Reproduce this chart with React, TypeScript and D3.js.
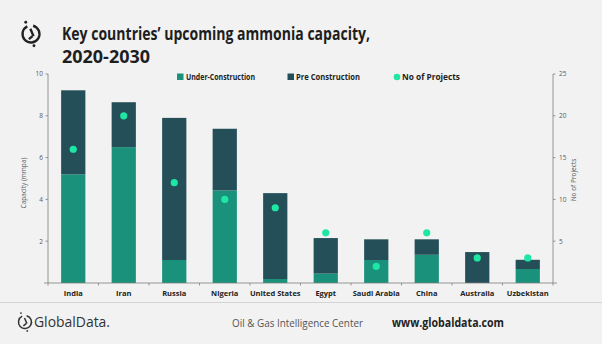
import React from "react";
import * as d3 from "d3";

const categories = ["India", "Iran", "Russia", "Nigeria", "United States", "Egypt", "Saudi Arabia", "China", "Australia", "Uzbekistan"];
const underConstruction = [5.2, 6.5, 1.1, 4.43, 0.19, 0.45, 1.1, 1.35, 0, 0.67];
const totalCapacity = [9.22, 8.65, 7.9, 7.38, 4.3, 2.15, 2.09, 2.09, 1.48, 1.11];
const noOfProjects = [16, 20, 12, 10, 9, 6, 2, 6, 3, 3];
const leftTicks = [2, 4, 6, 8, 10];
const rightTicks = [5, 10, 15, 20, 25];

const W = 602, H = 344;
const C_UNDER = "#1a917a";
const C_PRE = "#244f58";
const C_DOT = "#1ee6a4";
const FONT = "'Open Sans', 'Liberation Sans', sans-serif";

function Logo({ cx, cy, r, w, color }: { cx: number; cy: number; r: number; w: number; color: string }) {
  const ring = d3.arc()({ innerRadius: r - w / 2, outerRadius: r + w / 2, startAngle: 0.25, endAngle: 2 * Math.PI - 0.45 } as any) as string;
  return (
    <g transform={`translate(${cx},${cy})`}>
      <path d={ring} fill={color} />
      <line x1={-r * 0.08} y1={-r * 0.62} x2={r * 0.3} y2={r * 0.25} stroke={color} strokeWidth={w} />
      <line x1={r * 0.18} y1={r * 0.25} x2={-r * 0.25} y2={r * 0.6} stroke={color} strokeWidth={w} />
      <circle cx={-r * 0.62} cy={-r * 1.38} r={w * 0.6} fill={color} />
      <circle cx={r * 0.35} cy={r * 1.38} r={w * 0.6} fill={color} />
    </g>
  );
}

export default function App() {
  const x = d3.scaleBand<string>().domain(categories).range([48, 553]).paddingInner(0.52).paddingOuter(0.26);
  const yL = d3.scaleLinear().domain([0, 10]).range([283, 74]);
  const yR = d3.scaleLinear().domain([0, 25]).range([283, 74]);
  const step = x.step();
  const boundaries = d3.range(categories.length + 1).map((i) => 48 + i * step);

  return (
    <svg width={W} height={H} style={{ position: "absolute", left: 0, top: 0, background: "#f2f2f2" }} fontFamily={FONT}>
      <rect width={W} height={H} fill="#f2f2f2" />
      <Logo cx={31} cy={34} r={8.5} w={2.4} color="#222" />
      <text x={62} y={40} fontSize={17.5} fontWeight={700} fill="#1e1e1e" textLength={308} lengthAdjust="spacingAndGlyphs">Key countries’ upcoming ammonia capacity,</text>
      <text x={62} y={63} fontSize={17.5} fontWeight={700} fill="#1e1e1e" textLength={88} lengthAdjust="spacingAndGlyphs">2020-2030</text>

      {/* Legend */}
      <rect x={177} y={73.5} width={6.5} height={6.5} fill={C_UNDER} />
      <text x={186} y={79.8} fontSize={8} fontWeight={700} fill="#222" textLength={69} lengthAdjust="spacingAndGlyphs">Under-Construction</text>
      <rect x={287.5} y={73.5} width={6.5} height={6.5} fill={C_PRE} />
      <text x={296} y={79.8} fontSize={8} fontWeight={700} fill="#222" textLength={64} lengthAdjust="spacingAndGlyphs">Pre Construction</text>
      <circle cx={397} cy={77} r={3.3} fill={C_DOT} />
      <text x={402} y={79.8} fontSize={8} fontWeight={700} fill="#222" textLength={58} lengthAdjust="spacingAndGlyphs">No of Projects</text>

      {/* Bars */}
      {categories.map((c, i) => (
        <g key={c}>
          <rect x={x(c)} width={x.bandwidth()} y={yL(underConstruction[i])} height={yL(0) - yL(underConstruction[i])} fill={C_UNDER} />
          <rect x={x(c)} width={x.bandwidth()} y={yL(totalCapacity[i])} height={yL(underConstruction[i]) - yL(totalCapacity[i])} fill={C_PRE} />
          <circle cx={(x(c) as number) + x.bandwidth() / 2} cy={yR(noOfProjects[i])} r={3.6} fill={C_DOT} />
        </g>
      ))}

      {/* Left axis */}
      <line x1={48} x2={48} y1={74} y2={283} stroke="#7f7f7f" strokeWidth={0.8} />
      {leftTicks.map((t) => (
        <g key={t}>
          <line x1={45.5} x2={48} y1={yL(t)} y2={yL(t)} stroke="#7f7f7f" strokeWidth={0.8} />
          <text x={43} y={yL(t) + 2.3} fontSize={6.5} fill="#595959" textAnchor="end">{t}</text>
        </g>
      ))}
      <text transform={`translate(26,183) rotate(-90)`} fontSize={6.5} fill="#595959" textAnchor="middle">Capacity (mmpa)</text>

      {/* Right axis */}
      <line x1={553} x2={553} y1={74} y2={283} stroke="#7f7f7f" strokeWidth={0.8} />
      {rightTicks.map((t) => (
        <g key={t}>
          <line x1={553} x2={555.5} y1={yR(t)} y2={yR(t)} stroke="#7f7f7f" strokeWidth={0.8} />
          <text x={559} y={yR(t) + 2.3} fontSize={6.5} fill="#595959">{t}</text>
        </g>
      ))}
      <text transform={`translate(576,180) rotate(-90)`} fontSize={6.5} fill="#595959" textAnchor="middle">No of Projects</text>

      {/* Bottom axis */}
      <line x1={44} x2={557} y1={283} y2={283} stroke="#7f7f7f" strokeWidth={0.8} />
      {boundaries.map((b, i) => (
        <line key={i} x1={b} x2={b} y1={283} y2={285.5} stroke="#7f7f7f" strokeWidth={0.8} />
      ))}
      {categories.map((c) => (
        <text key={c} x={(x(c) as number) + x.bandwidth() / 2} y={295.5} fontSize={7.5} fontWeight={700} fill="#222" textAnchor="middle">{c}</text>
      ))}

      {/* Footer */}
      <line x1={0} x2={W} y1={302.5} y2={302.5} stroke="#d4d4d4" strokeWidth={1} />
      <Logo cx={25} cy={322} r={6.5} w={1.5} color="#333" />
      <text x={34} y={327} fontSize={14} fill="#333" textLength={76} lengthAdjust="spacingAndGlyphs">GlobalData.</text>
      <text x={232} y={326.5} fontSize={10.5} fill="#555" textLength={131} lengthAdjust="spacingAndGlyphs">Oil &amp; Gas Intelligence Center</text>
      <text x={392} y={327} fontSize={12.5} fontWeight={700} fill="#222" textLength={112} lengthAdjust="spacingAndGlyphs">www.globaldata.com</text>
    </svg>
  );
}
